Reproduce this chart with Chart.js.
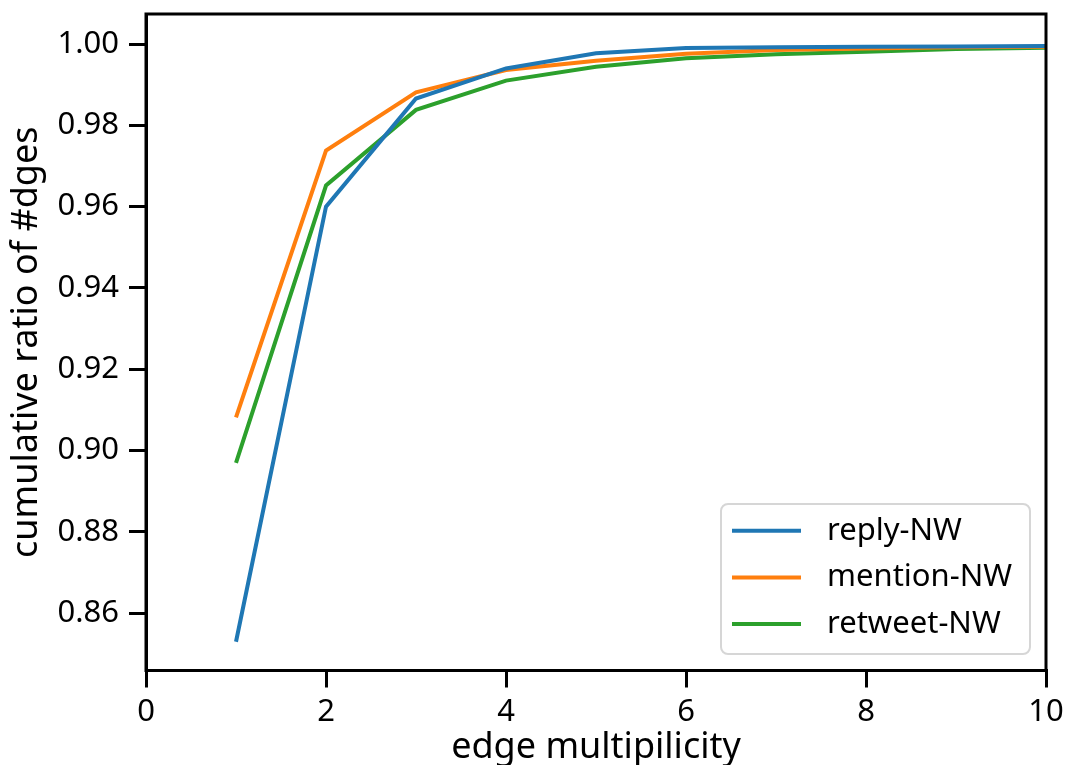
<!DOCTYPE html>
<html>
<head>
<meta charset="utf-8">
<script src="https://cdn.jsdelivr.net/npm/chart.js@4"></script>
<style>
  html, body { margin: 0; padding: 0; background: #fff; overflow: hidden; }
  #wrap { width: 1069px; height: 770px; }
</style>
</head>
<body>
<div id="wrap"><canvas id="chart"></canvas></div>
<script>
// edge multiplicity 1..10
const multiplicity = [1, 2, 3, 4, 5, 6, 7, 8, 9, 10];
const replyNW = [0.853, 0.960, 0.9866, 0.9940, 0.9977, 0.9990, 0.9992, 0.9993, 0.9994, 0.9995];
const mentionNW = [0.9082, 0.9738, 0.9881, 0.9936, 0.9959, 0.9976, 0.9985, 0.9989, 0.9992, 0.9993];
const retweetNW = [0.8970, 0.9652, 0.9838, 0.9910, 0.9944, 0.9965, 0.9975, 0.9981, 0.9988, 0.9991];
const yTicks = [0.86, 0.88, 0.90, 0.92, 0.94, 0.96, 0.98, 1.00];
const xTicks = [0, 2, 4, 6, 8, 10];

const FONT = "'Noto Sans'";

const toPoints = (ys) => ys.map((y, i) => ({ x: multiplicity[i], y: y }));

// spines on all four sides, like matplotlib
const frame = {
  id: "frame",
  afterDatasetsDraw(chart) {
    const { ctx, chartArea: a } = chart;
    ctx.save();
    ctx.strokeStyle = "#000";
    ctx.lineWidth = 3;
    ctx.strokeRect(a.left, a.top, a.right - a.left, a.bottom - a.top);
    ctx.restore();
  },
};

// legend box in the lower right of the plot
const boxLegend = {
  id: "boxLegend",
  afterDraw(chart) {
    const { ctx, chartArea: a } = chart;
    const w = 309, h = 150;
    const x0 = a.right - 16 - w;
    const y0 = a.bottom - 16.5 - h;
    ctx.save();
    ctx.beginPath();
    ctx.roundRect(x0, y0, w, h, 7);
    ctx.fillStyle = "rgba(255,255,255,0.8)";
    ctx.fill();
    ctx.strokeStyle = "#d6d6d6";
    ctx.lineWidth = 2;
    ctx.stroke();
    ctx.font = "31px " + FONT;
    ctx.textBaseline = "middle";
    ctx.fillStyle = "#000";
    chart.data.datasets.forEach((ds, i) => {
      const y = y0 + 26.7 + i * 46.7;
      ctx.beginPath();
      ctx.moveTo(x0 + 11, y);
      ctx.lineTo(x0 + 80, y);
      ctx.strokeStyle = ds.borderColor;
      ctx.lineWidth = 4;
      ctx.stroke();
      ctx.fillText(ds.label, x0 + 106, y);
    });
    ctx.restore();
  },
};

new Chart(document.getElementById("chart"), {
  type: "line",
  data: {
    datasets: [
      { label: "reply-NW", data: toPoints(replyNW), borderColor: "#1f77b4" },
      { label: "mention-NW", data: toPoints(mentionNW), borderColor: "#ff7f0e" },
      { label: "retweet-NW", data: toPoints(retweetNW), borderColor: "#2ca02c" },
    ],
  },
  options: {
    responsive: true,
    maintainAspectRatio: false,
    animation: false,
    layout: { padding: { left: 0, right: 23, top: 14, bottom: 0 } },
    elements: {
      line: { borderWidth: 4, tension: 0, fill: false },
      point: { radius: 0 },
    },
    plugins: {
      legend: { display: false },
      tooltip: { enabled: false },
    },
    scales: {
      x: {
        type: "linear",
        min: 0,
        max: 10,
        afterBuildTicks: (scale) => {
          scale.ticks = xTicks.map((v) => ({ value: v }));
        },
        afterFit: (scale) => {
          scale.height = 99.5;
          scale.paddingLeft = 0;
          scale.paddingRight = 0;
        },
        grid: { drawOnChartArea: false, color: "#000", lineWidth: 3, tickLength: 17 },
        border: { color: "#000", width: 3 },
        ticks: { color: "#000", font: { family: FONT, size: 31 }, padding: 6, maxRotation: 0 },
        title: {
          display: true,
          text: "edge multipilicity",
          color: "#000",
          font: { family: FONT, size: 36 },
          padding: { top: 0, bottom: 1 },
        },
      },
      y: {
        type: "linear",
        min: 0.84593,
        max: 1.00738,
        afterBuildTicks: (scale) => {
          scale.ticks = yTicks.map((v) => ({ value: v }));
        },
        afterFit: (scale) => {
          scale.width = 146;
          scale.paddingTop = 0;
          scale.paddingBottom = 0;
        },
        grid: { drawOnChartArea: false, color: "#000", lineWidth: 3, tickLength: 17 },
        border: { color: "#000", width: 3 },
        ticks: {
          color: "#000",
          font: { family: FONT, size: 31 },
          padding: 10,
          callback: (v) => v.toFixed(2),
        },
        title: {
          display: true,
          text: "cumulative ratio of #dges",
          color: "#000",
          font: { family: FONT, size: 36 },
          padding: { top: 5, bottom: 0 },
        },
      },
    },
  },
  plugins: [frame, boxLegend],
});
</script>
</body>
</html>
